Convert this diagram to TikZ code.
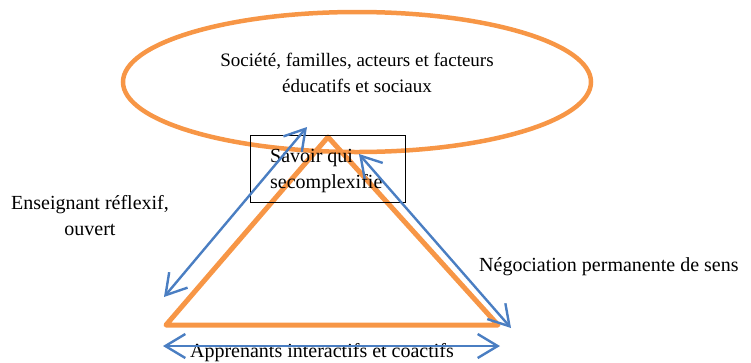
\documentclass[tikz,border=0pt]{standalone}
\usepackage{fontspec}
\setmainfont{Liberation Serif}
\usetikzlibrary{arrows.meta,shapes.geometric}
\definecolor{org}{HTML}{F79646}
\definecolor{blu}{HTML}{4A7EC2}
\tikzset{
  orangeline/.style={draw=org, line width=5pt, line join=round, line cap=round},
  bluetip/.tip={Straight Barb[length=20pt,width=24pt,line width=2.4pt]},
  bluearrow/.style={draw=blu, line width=2.4pt, bluetip-bluetip},
  lbl/.style={font=\fontsize{20}{26}\selectfont, align=center, inner sep=0pt}
}
\begin{document}
\begin{tikzpicture}[x=1pt,y=-1pt]
\useasboundingbox (0,0) rectangle (751,362);
% ellipse
\node[ellipse, draw=org, line width=4.5pt, minimum width=468pt, minimum height=140pt, inner sep=0pt] (soc) at (357,82) {};
\node[lbl, font=\fontsize{19}{26}\selectfont] (soctxt) at (357,73) {Société, familles, acteurs et facteurs\\éducatifs et sociaux};
% triangle
\coordinate (A) at (328,137);
\coordinate (B) at (166,325);
\coordinate (C) at (498,325);
\draw[orangeline] (A) -- (B) -- (C) -- cycle;
% box
\coordinate (b1) at (250,135);
\coordinate (b2) at (405,202);
\draw[black, line width=0.8pt] (b1) rectangle (b2);
\begin{scope}
\clip (b1) rectangle (b2);
\node[lbl, align=left, anchor=north west] (sav) at (270,149) {Savoir qui\\secomplexifie};
\end{scope}
% labels
\node[lbl] (ens) at (90,216) {Enseignant réflexif,\\ouvert};
\node[lbl, anchor=west] (neg) at (479,267) {Négociation permanente de sens};
\node[lbl] (app) at (322,353) {Apprenants interactifs et coactifs};
% arrows
\coordinate (l1) at (164,297);
\coordinate (l2) at (307,127);
\coordinate (r1) at (359,154);
\coordinate (r2) at (511,328);
\coordinate (d1) at (163,346);
\coordinate (d2) at (500,346);
\draw[bluearrow] (l1) -- (l2);
\draw[bluearrow] (r1) -- (r2);
\draw[bluearrow] (d1) -- (d2);
\end{tikzpicture}
\end{document}
